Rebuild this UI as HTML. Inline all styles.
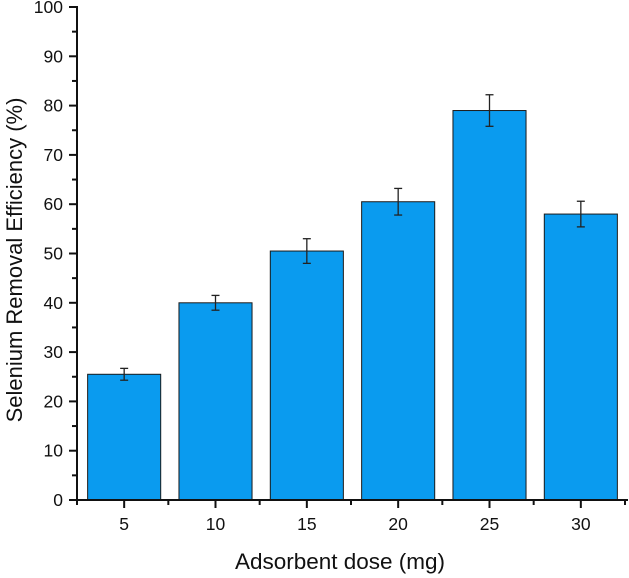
<!DOCTYPE html>
<html><head><meta charset="utf-8"><style>body{margin:0;background:#fff}svg{display:block;font-family:"Liberation Sans",Arial,sans-serif}</style></head>
<body>
<svg id="c" width="629" height="578"></svg>
<script>
const categories=["5","10","15","20","25","30"];
const values=[25.5,40,50.5,60.5,79,58];
const errors=[1.2,1.5,2.5,2.7,3.2,2.6];
const yTicks=[0,10,20,30,40,50,60,70,80,90,100];
const NS="http://www.w3.org/2000/svg";
const svg=document.getElementById('c');
const X0=77,X1=625,Y0=500,Y1=7;
const slot=(X1-X0)/categories.length;
const xc=i=>X0+1.5+slot*(i+0.5);
const y=v=>Y0-(v/100)*(Y0-Y1);
function mk(t,a,p){const e=document.createElementNS(NS,t);for(const k in a)e.setAttribute(k,a[k]);(p||svg).appendChild(e);return e;}
categories.forEach((c,i)=>{
 const w=slot*0.8;
 const r=mk('rect',{x:xc(i)-w/2,y:y(values[i]),width:w,height:Y0-y(values[i]),fill:'#0a9bef',stroke:'#1a1a1a','stroke-width':1});
 
 
 const g=mk('g',{stroke:'#222','stroke-width':1.3});
 
 
 const t=y(values[i]+errors[i]),b=y(values[i]-errors[i]);
 mk('line',{x1:xc(i),x2:xc(i),y1:t,y2:b},g);
 mk('line',{x1:xc(i)-4,x2:xc(i)+4,y1:t,y2:t},g);
 mk('line',{x1:xc(i)-4,x2:xc(i)+4,y1:b,y2:b},g);
 mk('line',{x1:xc(i),x2:xc(i),y1:Y0,y2:Y0+8,stroke:'#111','stroke-width':2});
 const tx=mk('text',{x:xc(i),y:Y0+30,'text-anchor':'middle','font-size':17.5,fill:'#111'});
 tx.textContent=c;
 
 
});
for(let i=0;i<=categories.length;i++){mk('line',{x1:X0+slot*i,x2:X0+slot*i,y1:Y0,y2:Y0+5,stroke:'#111','stroke-width':2});}
yTicks.forEach(v=>{
 mk('line',{x1:X0-8,x2:X0,y1:y(v),y2:y(v),stroke:'#111','stroke-width':2});
 if(v<100)mk('line',{x1:X0-5,x2:X0,y1:y(v+5),y2:y(v+5),stroke:'#111','stroke-width':2});
 const t=mk('text',{x:X0-14,y:y(v)+6,'text-anchor':'end','font-size':17.5,fill:'#111'});
 t.textContent=v;
 
 
});
const ax=mk('path',{d:`M${X0-8} ${Y1} H${X0} V${Y0} H${X1+3}`,fill:'none',stroke:'#111','stroke-width':2});


const xt=mk('text',{x:340,y:569,'text-anchor':'middle','font-size':22.5,fill:'#111'});
xt.textContent='Adsorbent dose (mg)';


const yt=mk('text',{x:0,y:0,'text-anchor':'middle','font-size':22,fill:'#111',transform:`translate(22 260) rotate(-90)`});
yt.textContent='Selenium Removal Efficiency (%)';


</script>
</body></html>
